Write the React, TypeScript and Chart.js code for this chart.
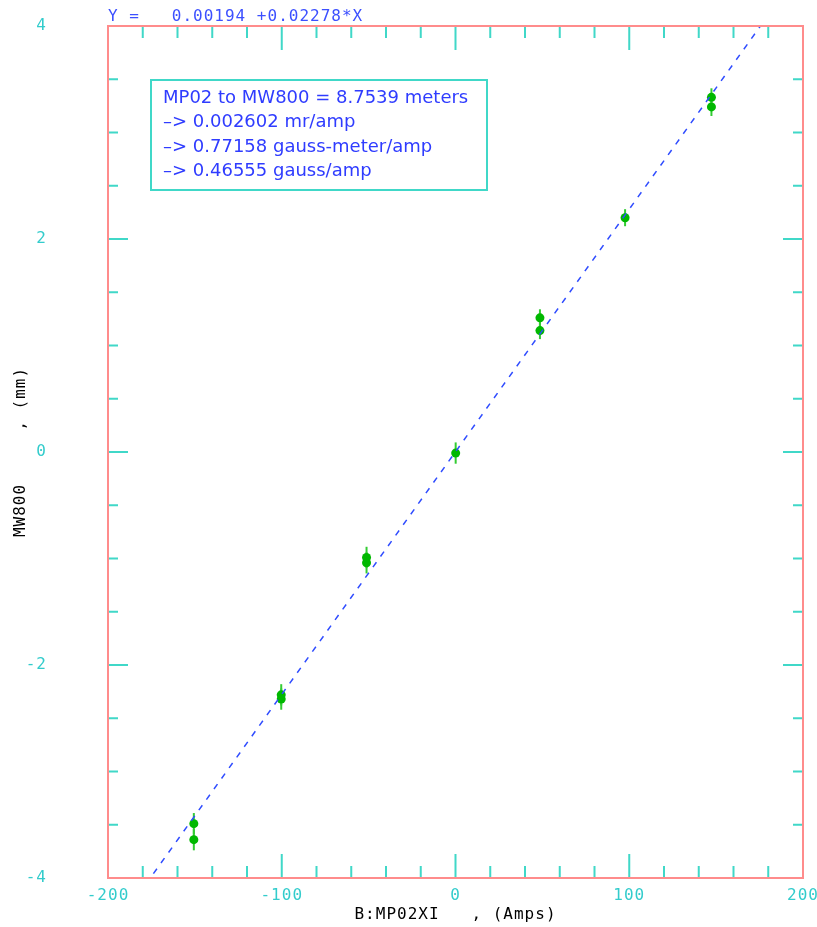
import { useEffect, useRef } from "react";
import { Chart, registerables } from "chart.js";

Chart.register(...registerables);

// ---- data ----
const xValues = [-150.6, -150.6, -100.3, -100.3, -51.2, -51.2, 0.1, 48.6, 48.6, 97.6, 147.3, 147.3];
const yValues = [-3.49, -3.64, -2.28, -2.32, -0.99, -1.04, -0.01, 1.26, 1.14, 2.2, 3.33, 3.24];
const yErrors = [0.1, 0.1, 0.1, 0.1, 0.1, 0.1, 0.1, 0.08, 0.08, 0.08, 0.085, 0.085];

// fit line: Y = 0.00194 + 0.02278*X (end points)
const fitLineX = [-200, 200];
const fitLineY = [-4.554, 4.558];

const xTickLabels = [-200, -100, 0, 100, 200];
const yTickLabels = [-4, -2, 0, 2, 4];
const xMajorTicks = [-100, 0, 100];
const xMinorTicks = [-180, -160, -140, -120, -80, -60, -40, -20, 20, 40, 60, 80, 120, 140, 160, 180];
const yMajorTicks = [-2, 0, 2];
const yMinorTicks = [-3.5, -3, -2.5, -1.5, -1, -0.5, 0.5, 1, 1.5, 2.5, 3, 3.5];

const titleText = "Y =   0.00194 +0.02278*X";
const xTitle = "B:MP02XI   , (Amps)";
const yTitle = "MW800     , (mm)";
const noteLines = [
  "MP02 to MW800 = 8.7539 meters",
  "\u2013> 0.002602 mr/amp",
  "\u2013> 0.77158 gauss-meter/amp",
  "\u2013> 0.46555 gauss/amp",
];

// ---- styles ----
const MONO = '"DejaVu Sans Mono", monospace';
const MONO_SPACING = "1px";
const TICK_LABEL_COLOR = "#33cccc";
const TICK_COLOR = "#40d8c8";
const BORDER_COLOR = "#ff8c8c";
const LINE_COLOR = "#2f4cff";
const POINT_COLOR = "#00b800";
const ERR_COLOR = "#33cc33";
const TITLE_COLOR = "#3c50ff";
const NOTE_COLOR = "#2f3cff";
const NOTE_BORDER = "#40d8c8";

const decorPlugin = {
  id: "decor",
  beforeDraw(chart: any) {
    (chart.ctx as any).letterSpacing = MONO_SPACING;
  },
  beforeDatasetsDraw(chart: any) {
    const { ctx, chartArea: a, scales } = chart;
    const x = scales.x;
    const y = scales.y;
    ctx.save();
    // error bars
    ctx.strokeStyle = ERR_COLOR;
    ctx.lineWidth = 2;
    xValues.forEach((xv, i) => {
      const px = x.getPixelForValue(xv);
      ctx.beginPath();
      ctx.moveTo(px, y.getPixelForValue(yValues[i] + yErrors[i]));
      ctx.lineTo(px, y.getPixelForValue(yValues[i] - yErrors[i]));
      ctx.stroke();
    });
    // inner tick marks
    ctx.strokeStyle = TICK_COLOR;
    ctx.lineWidth = 2;
    const xt = (v: number, len: number) => {
      const px = x.getPixelForValue(v);
      ctx.beginPath();
      ctx.moveTo(px, a.bottom);
      ctx.lineTo(px, a.bottom - len);
      ctx.moveTo(px, a.top);
      ctx.lineTo(px, a.top + len);
      ctx.stroke();
    };
    const yt = (v: number, len: number) => {
      const py = y.getPixelForValue(v);
      ctx.beginPath();
      ctx.moveTo(a.left, py);
      ctx.lineTo(a.left + len, py);
      ctx.moveTo(a.right, py);
      ctx.lineTo(a.right - len, py);
      ctx.stroke();
    };
    xMinorTicks.forEach((v) => xt(v, 12));
    xMajorTicks.forEach((v) => xt(v, 24));
    yMinorTicks.forEach((v) => yt(v, 10));
    yMajorTicks.forEach((v) => yt(v, 20));
    ctx.restore();
  },
  afterDraw(chart: any) {
    const { ctx, chartArea: a } = chart;
    ctx.save();
    // border
    ctx.strokeStyle = BORDER_COLOR;
    ctx.lineWidth = 2;
    ctx.strokeRect(a.left, a.top, a.right - a.left, a.bottom - a.top);
    // title
    (ctx as any).letterSpacing = MONO_SPACING;
    ctx.font = `16px ${MONO}`;
    ctx.fillStyle = TITLE_COLOR;
    ctx.textAlign = "left";
    ctx.textBaseline = "alphabetic";
    ctx.fillText(titleText, a.left, 21);
    // note box
    (ctx as any).letterSpacing = "0px";
    ctx.strokeStyle = NOTE_BORDER;
    ctx.lineWidth = 2;
    ctx.strokeRect(151, 80, 336, 110);
    ctx.font = '18px "DejaVu Sans", sans-serif';
    ctx.fillStyle = NOTE_COLOR;
    ctx.textBaseline = "middle";
    noteLines.forEach((t, i) => ctx.fillText(t, 163, 98 + i * 24.6));
    ctx.restore();
  },
};

export default function App() {
  const ref = useRef<HTMLCanvasElement | null>(null);
  useEffect(() => {
    document.body.style.margin = "0";
    const canvas = ref.current!;
    const tickFont = { family: MONO, size: 16 };
    const chart = new Chart(canvas, {
      type: "scatter",
      data: {
        datasets: [
          {
            type: "line",
            data: fitLineX.map((v, i) => ({ x: v, y: fitLineY[i] })),
            borderColor: LINE_COLOR,
            borderWidth: 1.5,
            borderDash: [6, 7],
            pointRadius: 0,
            fill: false,
            order: 0,
          } as any,
          {
            data: xValues.map((v, i) => ({ x: v, y: yValues[i] })),
            backgroundColor: POINT_COLOR,
            borderColor: POINT_COLOR,
            borderWidth: 0,
            pointRadius: 4.5,
            order: 1,
          },
        ],
      },
      options: {
        responsive: false,
        animation: false,
        events: [],
        layout: { padding: { left: 0, top: 26, right: 14, bottom: 0 }, autoPadding: false } as any,
        plugins: {
          legend: { display: false },
          tooltip: { enabled: false },
          title: { display: false },
        },
        scales: {
          x: {
            type: "linear",
            min: -200,
            max: 200,
            afterFit(s: any) {
              s.height = 49;
              s.paddingLeft = 0;
              s.paddingRight = 0;
            },
            afterBuildTicks(s: any) {
              s.ticks = xTickLabels.map((v) => ({ value: v }));
            },
            grid: { display: false, drawTicks: false },
            border: { display: false },
            ticks: {
              color: TICK_LABEL_COLOR,
              font: tickFont,
              padding: 8,
              maxRotation: 0,
              autoSkip: false,
              callback: (v: any) => String(v),
            },
            title: {
              display: true,
              text: xTitle,
              color: "#000",
              font: tickFont,
              padding: { top: 0, bottom: 3 },
            },
          },
          y: {
            type: "linear",
            min: -4,
            max: 4,
            afterFit(s: any) {
              s.width = 108;
              s.paddingTop = 0;
              s.paddingBottom = 0;
            },
            afterBuildTicks(s: any) {
              s.ticks = yTickLabels.map((v) => ({ value: v }));
            },
            grid: { display: false, drawTicks: false },
            border: { display: false },
            ticks: {
              color: TICK_LABEL_COLOR,
              font: tickFont,
              padding: 61,
              autoSkip: false,
              callback: (v: any) => String(v),
            },
            title: {
              display: true,
              text: yTitle,
              color: "#000",
              font: tickFont,
              padding: { top: 11, bottom: 0 },
            },
          },
        },
      },
      plugins: [decorPlugin],
    });
    return () => chart.destroy();
  }, []);
  return <canvas ref={ref} width={817} height={927} style={{ display: "block" }} />;
}
